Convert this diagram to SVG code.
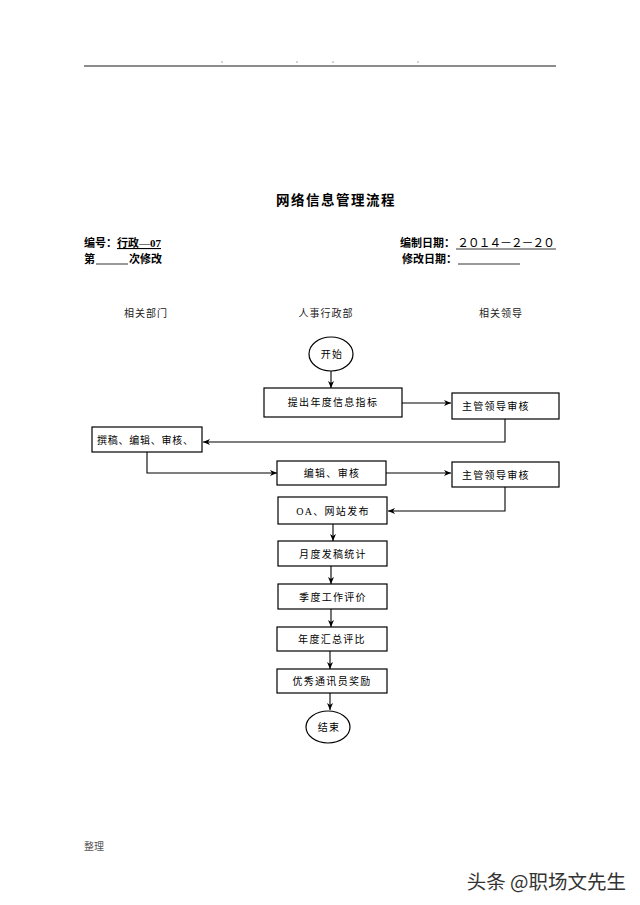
<svg xmlns="http://www.w3.org/2000/svg" width="640" height="905" viewBox="0 0 640 905">
<defs>
<marker id="arr" markerWidth="8" markerHeight="8" refX="7" refY="4" orient="auto" markerUnits="userSpaceOnUse">
<path d="M0,1 L7,4 L0,7 L2,4 Z" fill="#000"/>
</marker>
<style>
text{font-family:"Liberation Serif","Noto Sans CJK SC",serif;fill:#000}
.box{fill:#fff;stroke:#000;stroke-width:1.2}
.lbl{font-size:10px;text-anchor:middle;letter-spacing:1.3px}
.hd{font-size:10px;text-anchor:middle;letter-spacing:1px;fill:#222}
.meta{font-size:11px;font-weight:bold}
.con{fill:none;stroke:#000;stroke-width:1.1;marker-end:url(#arr)}
</style>
</defs>
<rect width="640" height="905" fill="#fff"/>
<line x1="84" y1="66" x2="556" y2="66" stroke="#666" stroke-width="1.5"/>
<g fill="#888"><circle cx="222" cy="62" r="0.7"/><circle cx="297" cy="62" r="0.7"/><circle cx="333" cy="62" r="0.7"/><circle cx="418" cy="62" r="0.7"/></g>
<text x="336" y="205" style="font-size:13.5px;font-weight:bold;text-anchor:middle;letter-spacing:1.5px">网络信息管理流程</text>
<text x="84" y="247" class="meta">编号：<tspan text-decoration="underline">行政—07</tspan></text>
<text x="84" y="263" class="meta">第</text>
<line x1="96" y1="264" x2="128" y2="264" stroke="#000" stroke-width="0.8"/>
<text x="129" y="263" class="meta">次修改</text>
<text x="400" y="247" class="meta">编制日期：</text>
<text x="457" y="247" textLength="98" lengthAdjust="spacing" style="font-size:12px;font-family:'Liberation Sans','Noto Sans CJK SC',sans-serif">２０１４－２－２０</text>
<line x1="456" y1="249" x2="556" y2="249" stroke="#000" stroke-width="0.8"/>
<text x="402" y="263" class="meta">修改日期：</text>
<line x1="458" y1="264" x2="520" y2="264" stroke="#000" stroke-width="0.8"/>
<text x="146" y="317" class="hd">相关部门</text>
<text x="326" y="317" class="hd">人事行政部</text>
<text x="501" y="317" class="hd">相关领导</text>
<g id="connectors">
<line class="con" x1="331" y1="371" x2="331" y2="388"/>
<line class="con" x1="402" y1="403" x2="451" y2="403"/>
<polyline class="con" points="505,419 505,442 203,442"/>
<polyline class="con" points="147,452 147,473 277,473"/>
<line class="con" x1="386" y1="473" x2="451" y2="473"/>
<polyline class="con" points="505,487 505,511 388,511"/>
<line class="con" x1="333" y1="524" x2="333" y2="541"/>
<line class="con" x1="331" y1="566" x2="331" y2="584"/>
<line class="con" x1="331" y1="609" x2="331" y2="627"/>
<line class="con" x1="330" y1="651" x2="330" y2="669"/>
<line class="con" x1="330" y1="693" x2="330" y2="710"/>
</g>
<g id="start"><ellipse class="box" cx="331" cy="354" rx="22" ry="17"/><text class="lbl" x="332" y="358">开始</text></g>
<g id="n1"><rect class="box" x="264" y="388" width="138" height="29"/><text class="lbl" x="333" y="406">提出年度信息指标</text></g>
<g id="n2"><rect class="box" x="452" y="393" width="107" height="26"/><text class="lbl" x="462" y="410" style="text-anchor:start">主管领导审核</text></g>
<g id="n3"><rect class="box" x="92" y="427" width="110" height="25"/><text x="97" y="444" textLength="96" lengthAdjust="spacing" style="font-size:10px">撰稿、编辑、审核、</text></g>
<g id="n4"><rect class="box" x="277" y="461" width="109" height="24"/><text class="lbl" x="332" y="477">编辑、审核</text></g>
<g id="n5"><rect class="box" x="452" y="462" width="107" height="25"/><text class="lbl" x="462" y="479" style="text-anchor:start">主管领导审核</text></g>
<g id="n6"><rect class="box" x="278" y="497" width="109" height="27"/><text class="lbl" x="333" y="515">OA、网站发布</text></g>
<g id="n7"><rect class="box" x="278" y="541" width="109" height="25"/><text class="lbl" x="333" y="558">月度发稿统计</text></g>
<g id="n8"><rect class="box" x="278" y="584" width="109" height="25"/><text class="lbl" x="333" y="601">季度工作评价</text></g>
<g id="n9"><rect class="box" x="277" y="627" width="110" height="24"/><text class="lbl" x="332" y="643">年度汇总评比</text></g>
<g id="n10"><rect class="box" x="277" y="669" width="110" height="24"/><text class="lbl" x="332" y="685">优秀通讯员奖励</text></g>
<g id="end"><ellipse class="box" cx="328" cy="727" rx="22" ry="16"/><text class="lbl" x="329" y="731">结束</text></g>
<text x="84" y="850" style="font-size:10px;fill:#555">整理</text>
<text x="626" y="889" style="font-size:19.5px;text-anchor:end;fill:#333;stroke:#fff;stroke-width:0.6;paint-order:stroke;font-family:'Noto Sans CJK SC',sans-serif">头条 @职场文先生</text>
</svg>
